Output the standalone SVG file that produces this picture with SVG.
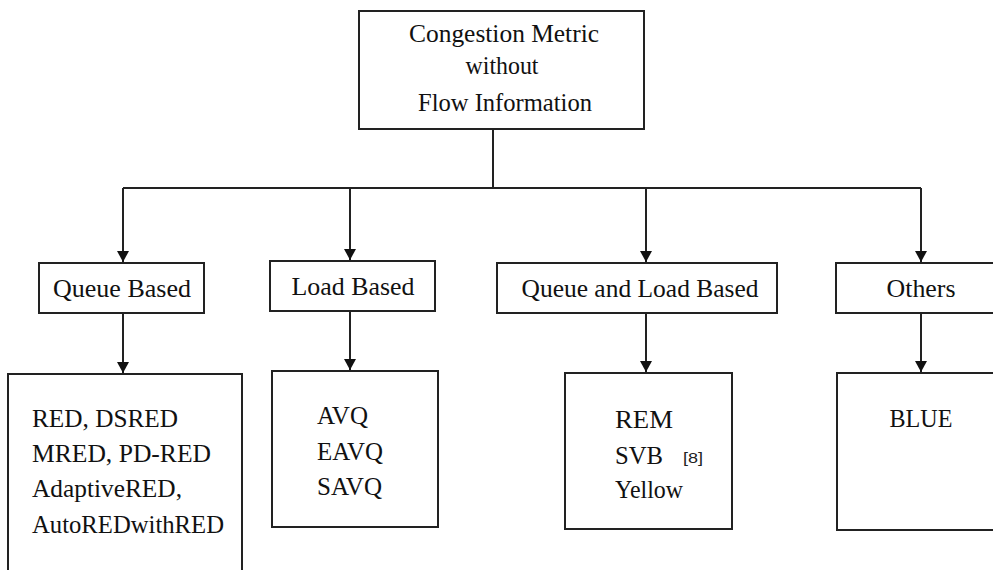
<svg xmlns="http://www.w3.org/2000/svg" width="993" height="570" viewBox="0 0 993 570">
  <style>
    .box { fill: #ffffff; stroke: #222222; stroke-width: 2; }
    .t { font-family: "Times New Roman", Times, Tinos, "Liberation Serif", "Nimbus Roman", "Noto Serif", "DejaVu Serif", serif; font-size: 26px; fill: #111111; }
    .c { text-anchor: middle; }
    .ref { font-family: Arial, "Liberation Sans", sans-serif; font-size: 14px; fill: #222222; }
    .conn { stroke: #222222; stroke-width: 2; fill: none; }
  </style>
  <defs>
    <marker id="arrow" viewBox="0 0 12 13" refX="12" refY="6.5" markerWidth="13" markerHeight="12" markerUnits="userSpaceOnUse" orient="auto">
      <path d="M0,0 L12,6.5 L0,13 z" fill="#111111"/>
    </marker>
  </defs>
  <rect width="993" height="570" fill="#ffffff"/>

  <g id="connectors">
    <line class="conn" x1="493" y1="129" x2="493" y2="188"/>
    <line class="conn" x1="123" y1="188" x2="921" y2="188"/>
    <line class="conn" x1="123" y1="188" x2="123" y2="262" marker-end="url(#arrow)"/>
    <line class="conn" x1="350" y1="188" x2="350" y2="260" marker-end="url(#arrow)"/>
    <line class="conn" x1="646" y1="188" x2="646" y2="262" marker-end="url(#arrow)"/>
    <line class="conn" x1="921" y1="188" x2="921" y2="262" marker-end="url(#arrow)"/>
    <line class="conn" x1="123" y1="313" x2="123" y2="373" marker-end="url(#arrow)"/>
    <line class="conn" x1="350" y1="311" x2="350" y2="370" marker-end="url(#arrow)"/>
    <line class="conn" x1="646" y1="313" x2="646" y2="372" marker-end="url(#arrow)"/>
    <line class="conn" x1="921" y1="313" x2="921" y2="372" marker-end="url(#arrow)"/>
  </g>

  <g id="root">
    <rect class="box" x="359" y="11" width="285" height="118"/>
    <text class="t c" x="504" y="42" textLength="190" lengthAdjust="spacingAndGlyphs">Congestion Metric</text>
    <text class="t c" x="502" y="74" textLength="73" lengthAdjust="spacingAndGlyphs">without</text>
    <text class="t c" x="505" y="111" textLength="174" lengthAdjust="spacingAndGlyphs">Flow Information</text>
  </g>

  <g id="queue-based">
    <rect class="box" x="39" y="263" width="165" height="50"/>
    <text class="t c" x="122" y="297" textLength="138" lengthAdjust="spacingAndGlyphs">Queue Based</text>
  </g>
  <g id="load-based">
    <rect class="box" x="270" y="261" width="165" height="50"/>
    <text class="t c" x="353" y="295" textLength="123" lengthAdjust="spacingAndGlyphs">Load Based</text>
  </g>
  <g id="queue-load-based">
    <rect class="box" x="497" y="263" width="280" height="50"/>
    <text class="t c" x="640" y="297" textLength="237" lengthAdjust="spacingAndGlyphs">Queue and Load Based</text>
  </g>
  <g id="others">
    <rect class="box" x="836" y="263" width="180" height="50"/>
    <text class="t c" x="921" y="297" textLength="69" lengthAdjust="spacingAndGlyphs">Others</text>
  </g>

  <g id="queue-leaf">
    <rect class="box" x="8" y="374" width="234" height="210"/>
    <text class="t" x="32" y="427" textLength="146" lengthAdjust="spacingAndGlyphs">RED, DSRED</text>
    <text class="t" x="32" y="462" textLength="179" lengthAdjust="spacingAndGlyphs">MRED, PD-RED</text>
    <text class="t" x="32" y="497" textLength="150" lengthAdjust="spacingAndGlyphs">AdaptiveRED,</text>
    <text class="t" x="32" y="533" textLength="192" lengthAdjust="spacingAndGlyphs">AutoREDwithRED</text>
  </g>
  <g id="load-leaf">
    <rect class="box" x="272" y="371" width="166" height="156"/>
    <text class="t" x="317" y="424" textLength="51" lengthAdjust="spacingAndGlyphs">AVQ</text>
    <text class="t" x="317" y="460" textLength="66" lengthAdjust="spacingAndGlyphs">EAVQ</text>
    <text class="t" x="317" y="495" textLength="65" lengthAdjust="spacingAndGlyphs">SAVQ</text>
  </g>
  <g id="queue-load-leaf">
    <rect class="box" x="565" y="373" width="167" height="156"/>
    <text class="t" x="615" y="428" textLength="58" lengthAdjust="spacingAndGlyphs">REM</text>
    <text class="t" x="615" y="464" textLength="48" lengthAdjust="spacingAndGlyphs">SVB</text>
    <text class="ref" x="683" y="463" textLength="20" lengthAdjust="spacingAndGlyphs">[8]</text>
    <text class="t" x="615" y="498" textLength="68" lengthAdjust="spacingAndGlyphs">Yellow</text>
  </g>
  <g id="others-leaf">
    <rect class="box" x="837" y="373" width="180" height="157"/>
    <text class="t c" x="921" y="427" textLength="63" lengthAdjust="spacingAndGlyphs">BLUE</text>
  </g>
</svg>
